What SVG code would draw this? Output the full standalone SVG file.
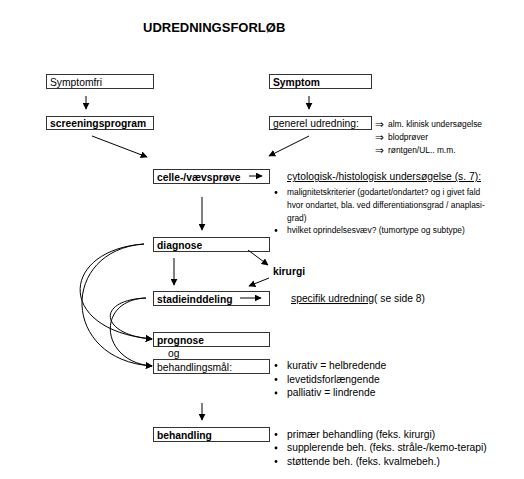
<svg xmlns="http://www.w3.org/2000/svg" width="524" height="479" viewBox="0 0 524 479">
<defs>
<marker id="ah" viewBox="0 0 10 10" refX="9" refY="5" markerWidth="7" markerHeight="7" markerUnits="userSpaceOnUse" orient="auto">
<path d="M0,0 L10,5 L0,10 z" fill="#000"/>
</marker>
</defs>
<style>
text{font-family:"Liberation Sans",Arial,sans-serif;fill:#000}
.box{fill:#fff;stroke:#333;stroke-width:1}
.t{font-size:10.3px}
.b{font-size:10.3px;font-weight:bold}
.s{font-size:8.4px}
.ar{font-family:"DejaVu Sans",sans-serif;font-size:10.5px}
.c{fill:none;stroke:#000;stroke-width:1;marker-end:url(#ah)}
.u{text-decoration:underline}
.dot{fill:#000}
</style>
<rect width="524" height="479" fill="#fff"/>
<text x="143" y="32" style="font-size:13px;font-weight:bold">UDREDNINGSFORLØB</text>

<g id="n-symptomfri"><rect class="box" x="46.5" y="74.5" width="107" height="14"/><text class="t" x="50" y="85.5">Symptomfri</text></g>
<g id="n-symptom"><rect class="box" x="269.5" y="74.5" width="102" height="14"/><text class="b" x="273" y="85.5">Symptom</text></g>
<g id="n-screening"><rect class="box" x="46.5" y="116.5" width="107" height="13"/><text class="b" x="50" y="127">screeningsprogram</text></g>
<g id="n-generel"><rect class="box" x="269.5" y="116.5" width="102" height="13"/><text class="t" x="273" y="127">generel udredning:</text></g>
<g id="n-generel-list">
<text class="ar" x="375" y="127.5">⇒</text><text class="s" x="388" y="127">alm. klinisk undersøgelse</text>
<text class="ar" x="375" y="140.5">⇒</text><text class="s" x="388" y="140">blodprøver</text>
<text class="ar" x="375" y="153.5">⇒</text><text class="s" x="388" y="153">røntgen/UL.. m.m.</text>
</g>
<g id="n-celle"><rect class="box" x="153.5" y="169.5" width="116" height="14"/><text class="b" x="157" y="180.5">celle-/vævsprøve</text></g>
<g id="n-cyto">
<text class="t u" x="287" y="180">cytologisk-/histologisk undersøgelse (s. 7):</text>
<circle class="dot" cx="276" cy="192.5" r="1.4"/>
<text class="s" x="287" y="195">malignitetskriterier (godartet/ondartet? og i givet fald</text>
<text class="s" x="287" y="207.5">hvor ondartet, bla. ved differentiationsgrad / anaplasi-</text>
<text class="s" x="287" y="220.5">grad)</text>
<circle class="dot" cx="276" cy="230.5" r="1.4"/>
<text class="s" x="287" y="233">hvilket oprindelsesvæv? (tumortype og subtype)</text>
</g>
<g id="n-diagnose"><rect class="box" x="153.5" y="237.5" width="116" height="14"/><text class="b" x="157" y="248.5">diagnose</text></g>
<g id="n-kirurgi"><text class="b" x="273" y="275">kirurgi</text></g>
<g id="n-stadie"><rect class="box" x="153.5" y="291.5" width="116" height="14"/><text class="b" x="157" y="302.5">stadieinddeling</text></g>
<g id="n-specifik"><text class="t" x="291" y="302"><tspan class="u">specifik udredning</tspan>( se side 8)</text></g>
<g id="n-prognose"><rect class="box" x="153.5" y="332.5" width="116" height="14"/><text class="b" x="157" y="343.5">prognose</text></g>
<text class="t" x="168" y="357">og</text>
<g id="n-behmal"><rect class="box" x="153.5" y="359.5" width="116" height="14"/><text class="t" x="157" y="370.5">behandlingsmål:</text></g>
<g id="n-behmal-list">
<circle class="dot" cx="276" cy="365.5" r="1.4"/><text class="t" x="287" y="368.5">kurativ = helbredende</text>
<circle class="dot" cx="276" cy="379.5" r="1.4"/><text class="t" x="287" y="382.5">levetidsforlængende</text>
<circle class="dot" cx="276" cy="393" r="1.4"/><text class="t" x="287" y="396">palliativ = lindrende</text>
</g>
<g id="n-behandling"><rect class="box" x="153.5" y="427.5" width="116" height="14"/><text class="b" x="157" y="438.5">behandling</text></g>
<g id="n-beh-list">
<circle class="dot" cx="276" cy="434.5" r="1.4"/><text class="t" x="287" y="437.5">primær behandling (feks. kirurgi)</text>
<circle class="dot" cx="276" cy="448" r="1.4"/><text class="t" x="287" y="451">supplerende beh. (feks. stråle-/kemo-terapi)</text>
<circle class="dot" cx="276" cy="461.5" r="1.4"/><text class="t" x="287" y="464.5">støttende beh. (feks. kvalmebeh.)</text>
</g>

<g id="connectors">
<path class="c" d="M86,96 V109"/>
<path class="c" d="M309,96 V109"/>
<path class="c" d="M92,136 L147,157"/>
<path class="c" d="M309,136 L269,156"/>
<path class="c" d="M249,176 H262"/>
<path class="c" d="M202,197 V230"/>
<path class="c" d="M248,250 L268,265"/>
<path class="c" d="M269,278 L249,286"/>
<path class="c" d="M174,258 V285"/>
<path class="c" d="M240,298 H261"/>
<path class="c" d="M144,244 C60,250 55,330 152,339"/>
<path class="c" d="M144,244 C60,250 60,360 152,366"/>
<path class="c" d="M146,298 C95,300 100,335 152,339"/>
<path class="c" d="M146,298 C95,300 100,362 152,366"/>
<path class="c" d="M202,403 V420"/>
</g>
</svg>
